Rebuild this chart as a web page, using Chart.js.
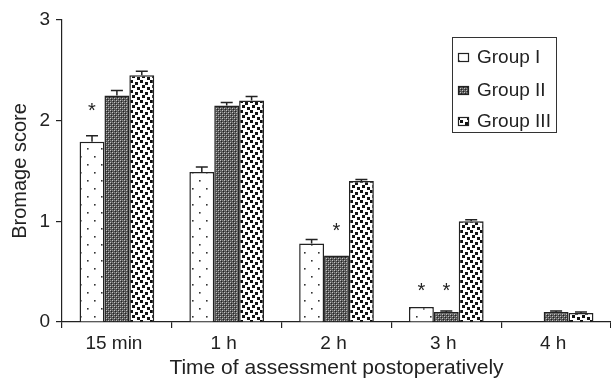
<!DOCTYPE html>
<html>
<head>
<meta charset="utf-8">
<script src="https://cdn.jsdelivr.net/npm/chart.js@4"></script>
<style>
  html, body { margin: 0; padding: 0; background: #fff; }
  canvas { display: block; }
</style>
</head>
<body>
<canvas id="bromageChart" width="611" height="382"></canvas>
<script>
// Bromage score by time after surgery, three groups

const timePoints = ['15 min', '1 h', '2 h', '3 h', '4 h'];
const groupNames = ['Group I', 'Group II', 'Group III'];

const group1 = [1.79, 1.49, 0.78, 0.15, 0];
const group2 = [2.25, 2.15, 0.66, 0.10, 0.10];
const group3 = [2.45, 2.20, 1.40, 1.00, 0.09];

// upper error (SEM)
const group1Err = [0.06, 0.05, 0.04, 0, 0];
const group2Err = [0.05, 0.03, 0, 0.01, 0.01];
const group3Err = [0.04, 0.04, 0.015, 0.015, 0.01];

// where the asterisks sit (score units), null = none
const group1Star = [2.13, null, null, 0.34, null];
const group2Star = [null, null, 0.94, 0.34, null];
const group3Star = [null, null, null, null, null];

const yTicks = [0, 1, 2, 3];

const FONT = "'Liberation Sans', Arial, Helvetica, sans-serif";
const INK = '#222';

// fill patterns for the bars
function makePattern(w, h, draw) {
    const c = document.createElement('canvas');
    c.width = w;
    c.height = h;
    const g = c.getContext('2d');
    draw(g);
    return g.createPattern(c, 'repeat');
}

const sparseDots = makePattern(14, 16, g => {
    g.fillStyle = '#fff';
    g.fillRect(0, 0, 14, 16);
    g.fillStyle = '#333';
    g.fillRect(3, 4, 1.6, 1.6);
    g.fillRect(10, 12, 1.6, 1.6);
});

const crossHatch = makePattern(4, 4, g => {
    g.fillStyle = '#555';
    g.fillRect(0, 0, 4, 4);
    g.fillStyle = '#c4c4c4';
    g.fillRect(0, 0, 1, 1);
    g.fillRect(2, 2, 1, 1);
    g.fillStyle = '#8a8a8a';
    g.fillRect(2, 0, 1, 1);
    g.fillRect(0, 2, 1, 1);
    g.fillStyle = '#222';
    g.fillRect(1, 1, 1, 1);
    g.fillRect(3, 3, 1, 1);
});

const denseSquares = makePattern(10, 10, g => {
    g.fillStyle = '#fff';
    g.fillRect(0, 0, 10, 10);
    g.fillStyle = '#111';
    g.fillRect(0, 0, 3, 3);
    g.fillRect(5, 2, 3, 3);
    g.fillRect(2, 5, 3, 3);
    g.fillRect(7, 7, 3, 3);
});

const fills = [sparseDots, crossHatch, denseSquares];
const errors = [group1Err, group2Err, group3Err];
const stars = [group1Star, group2Star, group3Star];

// error bars + asterisks
const annotations = {
    id: 'annotations',
    afterDatasetsDraw(chart) {
        const ctx = chart.ctx;
        const yScale = chart.scales.y;
        ctx.save();
        chart.data.datasets.forEach((ds, i) => {
            const meta = chart.getDatasetMeta(i);
            meta.data.forEach((bar, j) => {
                const err = errors[i][j];
                if (err > 0) {
                    const yTop = yScale.getPixelForValue(ds.data[j] + err);
                    ctx.strokeStyle = INK;
                    ctx.lineWidth = 1.5;
                    ctx.beginPath();
                    ctx.moveTo(bar.x, bar.y);
                    ctx.lineTo(bar.x, yTop);
                    ctx.moveTo(bar.x - 6, yTop);
                    ctx.lineTo(bar.x + 6, yTop);
                    ctx.stroke();
                }
                const s = stars[i][j];
                if (s !== null) {
                    ctx.fillStyle = INK;
                    ctx.font = '20px ' + FONT;
                    ctx.textAlign = 'center';
                    ctx.textBaseline = 'middle';
                    ctx.fillText('*', bar.x, yScale.getPixelForValue(s) + 4);
                }
            });
        });
        ctx.restore();
    }
};

// boxed legend in the upper right
const legendRows = [57, 90, 121];
const boxLegend = {
    id: 'boxLegend',
    afterDraw(chart) {
        const ctx = chart.ctx;
        ctx.save();
        ctx.strokeStyle = '#333';
        ctx.lineWidth = 1;
        ctx.strokeRect(452.5, 37.5, 104, 95);
        ctx.font = '19px ' + FONT;
        ctx.textBaseline = 'middle';
        ctx.textAlign = 'left';
        chart.data.datasets.forEach((ds, i) => {
            const y = legendRows[i];
            ctx.fillStyle = ds.backgroundColor;
            ctx.fillRect(458, y - 4, 11, 9);
            ctx.strokeStyle = INK;
            ctx.lineWidth = 1.2;
            ctx.strokeRect(458.5, y - 3.5, 10, 8);
            ctx.fillStyle = INK;
            ctx.fillText(ds.label, 477, y + 1);
        });
        ctx.restore();
    }
};

const ctx = document.getElementById('bromageChart').getContext('2d');

new Chart(ctx, {
    type: 'bar',
    data: {
        labels: timePoints,
        datasets: [group1, group2, group3].map((vals, i) => ({
            label: groupNames[i],
            data: vals,
            backgroundColor: fills[i],
            borderColor: INK,
            borderWidth: 1.5,
            barPercentage: 1,
            categoryPercentage: 0.68
        }))
    },
    options: {
        responsive: false,
        animation: false,
        layout: { padding: { top: 20, right: 0, left: 0, bottom: 0 } },
        plugins: {
            legend: { display: false },
            tooltip: { enabled: false }
        },
        scales: {
            x: {
                afterFit: scale => { scale.height = 60; },
                grid: {
                    offset: true,
                    drawOnChartArea: false,
                    tickLength: 6,
                    color: INK,
                    lineWidth: 1.2
                },
                border: { color: INK, width: 1.2 },
                ticks: {
                    color: INK,
                    padding: 4,
                    labelOffset: -3,
                    font: { family: FONT, size: 19 }
                },
                title: {
                    display: true,
                    text: 'Time of assessment postoperatively',
                    color: INK,
                    padding: { top: 0, bottom: 1 },
                    font: { family: FONT, size: 21 }
                }
            },
            y: {
                min: 0,
                max: 3,
                afterFit: scale => { scale.width = 62; },
                afterBuildTicks: scale => {
                    scale.ticks = yTicks.map(v => ({ value: v }));
                },
                grid: {
                    drawOnChartArea: false,
                    tickLength: 6,
                    color: INK,
                    lineWidth: 1.2
                },
                border: { color: INK, width: 1.2 },
                ticks: {
                    color: INK,
                    padding: 6,
                    font: { family: FONT, size: 19 }
                },
                title: {
                    display: true,
                    text: 'Bromage score',
                    color: INK,
                    padding: { top: 8, bottom: 0 },
                    font: { family: FONT, size: 20 }
                }
            }
        }
    },
    plugins: [annotations, boxLegend]
});
</script>
</body>
</html>
